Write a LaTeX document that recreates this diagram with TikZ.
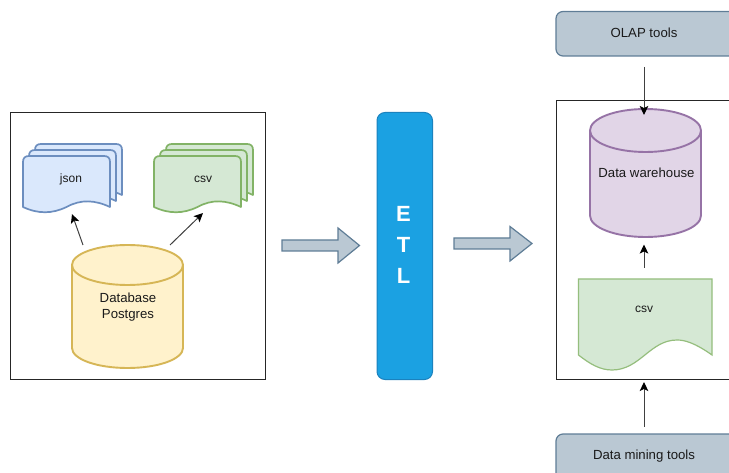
\documentclass[tikz,border=0pt]{standalone}
\usepackage{fontspec}
\setmainfont{Liberation Sans}
\usetikzlibrary{arrows.meta}
\definecolor{bluef}{HTML}{DAE8FC}\definecolor{blued}{HTML}{6C8EBF}
\definecolor{greenf}{HTML}{D5E8D4}\definecolor{greend}{HTML}{82B366}
\definecolor{yellowf}{HTML}{FFF2CC}\definecolor{yellowd}{HTML}{D6B656}
\definecolor{purplef}{HTML}{E1D5E7}\definecolor{purpled}{HTML}{9673A6}
\definecolor{slatef}{HTML}{BAC8D3}\definecolor{slated}{HTML}{5F7D96}
\definecolor{etlf}{HTML}{1BA1E2}\definecolor{etld}{HTML}{1B82BE}
\definecolor{inkc}{HTML}{1A1A1A}
\tikzset{
  x=1pt,y=-1pt,
  lbl/.style={font=\fontsize{13.2}{16}\selectfont,text=inkc,align=center,inner sep=0pt},
  smalllbl/.style={font=\fontsize{12}{16}\selectfont,text=inkc,align=center,inner sep=0pt},
  frame/.style={draw=black!85,line width=1pt,fill=white},
  tool/.style={draw=slated,fill=slatef,line width=1.2pt,rounded corners=7pt},
  conn/.style={draw=black!75,line width=1pt,-{Stealth[length=9pt,width=8.5pt,inset=2pt,color=black]}},
  block/.style={draw=slated,fill=slatef,line width=1.2pt,line join=miter},
}
% cylinder: left x, top y, right x, bottom y, ry, colours
\newcommand{\cyl}[7]{%
  \path[draw=#7,fill=#6,line width=1.9pt]
    (#1,#2+#5) -- (#1,#4-#5)
    .. controls (#1,#4-0.45*#5) and ({#1+0.22*(#3-#1)},#4) .. ({(#1+#3)/2},#4)
    .. controls ({#3-0.22*(#3-#1)},#4) and (#3,#4-0.45*#5) .. (#3,#4-#5)
    -- (#3,#2+#5)
    .. controls (#3,#2+0.45*#5) and ({#3-0.22*(#3-#1)},#2) .. ({(#1+#3)/2},#2)
    .. controls ({#1+0.22*(#3-#1)},#2) and (#1,#2+0.45*#5) .. (#1,#2+#5) -- cycle;
  \path[draw=#7,line width=1.9pt]
    (#1,#2+#5)
    .. controls (#1,#2+1.55*#5) and ({#1+0.22*(#3-#1)},#2+2*#5) .. ({(#1+#3)/2},#2+2*#5)
    .. controls ({#3-0.22*(#3-#1)},#2+2*#5) and (#3,#2+1.55*#5) .. (#3,#2+#5);
}
% wavy stacked page: left x, top y, fill, draw
\newcommand{\page}[4]{%
  \path[draw=#4,fill=#3,line width=1.7pt,line join=round]
    (#1,#2+51) -- (#1,#2+6) .. controls (#1,#2+2) and (#1+2,#2) .. (#1+6,#2)
    -- (#1+81,#2) .. controls (#1+85,#2) and (#1+87,#2+2) .. (#1+87,#2+6)
    -- (#1+87,#2+51)
    .. controls (#1+72,#2+44) and (#1+58,#2+43) .. (#1+43.5,#2+51)
    .. controls (#1+29,#2+58) and (#1+15,#2+58) .. (#1,#2+51) -- cycle;
}
\begin{document}
\begin{tikzpicture}
\useasboundingbox (0,0) rectangle (729,473);
% frames
\node[frame,anchor=north west,minimum width=255.5pt,minimum height=267pt,inner sep=0pt] (srcbox) at (9.8,112) {};
\path[frame] (735,100.5) -- (556.5,100.5) -- (556.5,379) -- (735,379);
% source pages
\page{35}{144}{bluef}{blued}\page{29}{150}{bluef}{blued}\page{23}{156}{bluef}{blued}
\node[smalllbl] (json) at (71,179) {json};
\page{166}{144}{greenf}{greend}\page{160}{150}{greenf}{greend}\page{154}{156}{greenf}{greend}
\node[smalllbl] (csvsrc) at (203,179) {csv};
% database
\cyl{72}{245}{183}{368}{20}{yellowf}{yellowd}
\node[lbl] (db) at (128,307.5) {Database\\Postgres};
% ETL
\node[draw=etld,fill=etlf,line width=1pt,rounded corners=8pt,minimum width=55.5pt,minimum height=267pt,inner sep=0pt,anchor=north west] (etl) at (376.5,112) {};
\node[font=\bfseries\fontsize{22}{31}\selectfont,text=white,align=center,inner sep=0pt] (etltext) at (403.5,244.5) {E\\T\\L};
% block arrows
\path[block] (282,240) -- (338,240) -- (338,228) -- (359.5,245.5) -- (338,263) -- (338,251) -- (282,251) -- cycle;
\path[block] (454,238) -- (510,238) -- (510,226.5) -- (532,243.5) -- (510,261) -- (510,249) -- (454,249) -- cycle;
% warehouse
\cyl{590}{109}{701}{237}{21.5}{purplef}{purpled}
\node[lbl] (dw) at (646.5,173) {Data warehouse};
% csv doc
\path[draw=greend!85,fill=greenf,line width=1.2pt,line join=miter]
  (578.5,355) -- (578.5,279) -- (712,279) -- (712,355)
  .. controls (695,343) and (685,340) .. (677,340)
  .. controls (650,340) and (640,370) .. (612,370)
  .. controls (600,370) and (590,364) .. (578.5,355) -- cycle;
\node[smalllbl] (csvdoc) at (644,309) {csv};
% tools
\path[tool] (740,11.5) -- (556,11.5) -- (556,56) -- (740,56);
\node[lbl] (olap) at (644,33) {OLAP tools};
\path[tool] (740,434) -- (556,434) -- (556,480) -- (740,480);
\node[lbl] (mining) at (644,456) {Data mining tools};
% connector free ends
\coordinate (jsonTip) at (72,214);\coordinate (jsonTail) at (83,245);
\coordinate (csvTip) at (203,213);\coordinate (csvTail) at (170,245);
\coordinate (olapTail) at (644,67);\coordinate (dwTop) at (644,115);
\coordinate (docTail) at (644,268);\coordinate (dwBottom) at (644,244.5);
\coordinate (miningTail) at (644,426.5);\coordinate (frameBottom) at (644,382);
\draw[conn] (jsonTail) -- (jsonTip);
\draw[conn] (csvTail) -- (csvTip);
\draw[conn] (olapTail) -- (dwTop);
\draw[conn] (docTail) -- (dwBottom);
\draw[conn] (miningTail) -- (frameBottom);
\end{tikzpicture}
\end{document}
